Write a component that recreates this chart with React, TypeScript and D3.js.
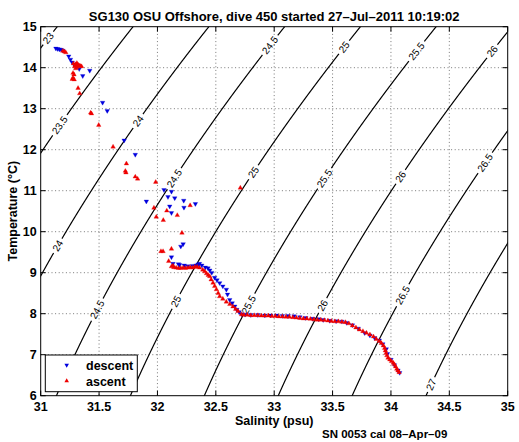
import React from 'react';
import * as d3 from 'd3';

const W = 519;
const H = 442;
const PL = 40.7, PR = 507.7, PT = 26.7, PB = 395.7;

const salTicks = [31, 31.5, 32, 32.5, 33, 33.5, 34, 34.5, 35];
const salTickLabels = ['31', '31.5', '32', '32.5', '33', '33.5', '34', '34.5', '35'];
const tempTicks = [6, 7, 8, 9, 10, 11, 12, 13, 14, 15];
const tempTickLabels = ['6', '7', '8', '9', '10', '11', '12', '13', '14', '15'];

const densityLevels = [23, 23.5, 24, 24.5, 25, 25.5, 26, 26.5, 27];
const labelLevels = [23, 23.5, 24, 24, 24.5, 24.5, 24.5, 25, 25, 25, 25.5, 25.5, 25.5, 26, 26, 26, 26.5, 26.5, 27];
const labelTemps = [14.72, 12.6, 12.7, 9.66, 14.55, 11.3, 8.1, 14.5, 11.45, 8.3, 14.4, 11.3, 8.22, 14.4, 11.34, 8.2, 11.68, 8.45, 6.27];

const descentSal = [
  31.13, 31.145, 31.16, 31.175, 31.19, 31.24, 31.255, 31.27, 31.285, 31.30, 31.33, 31.36, 31.42, 31.53, 31.57, 31.715, 31.81,
  32.056, 32.12, 31.905, 32.09, 32.148, 32.225, 32.325, 32.105, 32.227, 32.12,
  32.20, 32.22, 32.12, 32.18,
  32.133, 32.19, 32.23, 32.26, 32.30, 32.33, 32.347, 32.36, 32.38,
  32.41, 32.433, 32.448, 32.465, 32.49, 32.51, 32.533, 32.56, 32.59, 32.60, 32.619, 32.64, 32.662, 32.68, 32.70, 32.72,
  32.75, 32.80, 32.86, 32.92, 32.97, 33.02, 33.07, 33.12, 33.17, 33.22, 33.27, 33.33, 33.38, 33.42, 33.475, 33.53, 33.58, 33.62,
  33.67, 33.72, 33.775, 33.82, 33.86, 33.90, 33.93, 33.96, 33.97, 34.00, 34.03, 34.06, 34.075,
];
const descentTemp = [
  14.47, 14.46, 14.45, 14.44, 14.42, 14.28, 14.20, 14.13, 14.08, 14.04, 13.97, 13.80, 13.93, 13.15, 12.95, 12.23, 11.88,
  11.02, 10.98, 10.74, 10.85, 10.82, 10.76, 10.68, 10.62, 10.59, 10.46,
  9.64, 9.70, 9.38, 9.21,
  9.22, 9.19, 9.18, 9.16, 9.17, 9.18, 9.20, 9.22, 9.18,
  9.13, 9.11, 9.06, 9.00, 8.88, 8.82, 8.75, 8.67, 8.59, 8.47, 8.34, 8.26, 8.18, 8.10, 8.04, 7.99,
  7.98, 7.97, 7.97, 7.96, 7.96, 7.96, 7.95, 7.95, 7.94, 7.92, 7.90, 7.88, 7.87, 7.85, 7.83, 7.82, 7.81, 7.78,
  7.72, 7.64, 7.53, 7.47, 7.41, 7.35, 7.26, 7.14, 7.02, 6.88, 6.75, 6.62, 6.56,
];

const ascentSal = [
  31.19, 31.205, 31.215, 31.28, 31.30, 31.31, 31.32, 31.33, 31.29, 31.31, 31.34, 31.30, 31.35, 31.277, 31.285, 31.277, 31.287, 31.27, 31.32, 31.334, 31.428, 31.435, 31.497, 31.62,
  31.734, 31.725, 31.73, 31.81, 31.83, 31.985, 32.71, 32.28, 32.08, 31.97, 32.17, 31.99, 32.05, 32.21,
  32.03, 32.048, 32.12, 32.096, 32.133, 32.12,
  32.14, 32.16, 32.18, 32.20, 32.22, 32.24, 32.26, 32.28, 32.30, 32.32, 32.34, 32.36,
  32.388, 32.405, 32.42, 32.435, 32.448, 32.46, 32.476, 32.49, 32.505, 32.52, 32.533, 32.56, 32.59, 32.62, 32.647, 32.67, 32.69, 32.72,
  32.74, 32.77, 32.80, 32.83, 32.86, 32.89, 32.92, 32.95, 32.98, 33.01, 33.04, 33.07, 33.10, 33.13, 33.16, 33.19, 33.22, 33.25, 33.28, 33.31,
  33.34, 33.37, 33.40, 33.43, 33.46, 33.49, 33.52, 33.55, 33.58, 33.61,
  33.64, 33.67, 33.70, 33.73, 33.76, 33.79, 33.82, 33.85, 33.875, 33.90, 33.918, 33.935, 33.946, 33.952, 33.958, 33.965, 33.975, 33.99,
  34.004, 34.02, 34.03, 34.04, 34.05, 34.06, 34.07,
];
const ascentTemp = [
  14.41, 14.39, 14.37, 14.10, 14.08, 14.11, 14.07, 14.05, 14.03, 14.01, 14.04, 13.98, 14.03, 13.87, 13.83, 13.75, 13.71, 13.72, 13.50, 13.37, 12.90, 12.88, 12.60, 12.07,
  11.66, 11.48, 11.44, 11.34, 11.29, 11.21, 11.07, 10.64, 10.51, 10.58, 10.40, 10.36, 10.28, 9.97,
  9.52, 9.52, 9.58, 9.28, 9.17, 9.15,
  9.13, 9.12, 9.11, 9.11, 9.12, 9.11, 9.12, 9.13, 9.12, 9.14, 9.14, 9.12,
  9.07, 9.03, 8.98, 8.94, 8.91, 8.83, 8.75, 8.67, 8.59, 8.50, 8.42, 8.36, 8.29, 8.23, 8.17, 8.11, 8.06, 7.98,
  7.97, 7.97, 7.96, 7.96, 7.96, 7.95, 7.95, 7.95, 7.94, 7.94, 7.93, 7.93, 7.92, 7.92, 7.91, 7.90, 7.89, 7.88, 7.88, 7.87,
  7.86, 7.85, 7.85, 7.84, 7.83, 7.82, 7.81, 7.81, 7.80, 7.79,
  7.76, 7.71, 7.66, 7.61, 7.57, 7.53, 7.49, 7.44, 7.38, 7.33, 7.28, 7.22, 7.16, 7.10, 7.04, 6.98, 6.92, 6.88,
  6.84, 6.80, 6.76, 6.71, 6.65, 6.61, 6.57,
];

const titleText = 'SG130 OSU Offshore, dive 450 started 27\u2013Jul\u20132011 10:19:02';
const xLabel = 'Salinity (psu)';
const yLabel = 'Temperature (\u00B0C)';
const footText = 'SN 0053 cal 08\u2013Apr\u201309';
const legendNames = ['descent', 'ascent'];

// UNESCO EOS-80 density at p = 0, returned as sigma-t
function sigmaT(S: number, T: number) {
  const rw = 999.842594 + 6.793952e-2 * T - 9.09529e-3 * T * T + 1.001685e-4 * T ** 3 - 1.120083e-6 * T ** 4 + 6.536332e-9 * T ** 5;
  const B = 0.824493 - 4.0899e-3 * T + 7.6438e-5 * T * T - 8.2467e-7 * T ** 3 + 5.3875e-9 * T ** 4;
  const C = -5.72466e-3 + 1.0227e-4 * T - 1.6546e-6 * T * T;
  return rw + B * S + C * S ** 1.5 + 4.8314e-4 * S * S - 1000;
}
function salAt(level: number, T: number) {
  let lo = 15, hi = 45;
  for (let i = 0; i < 50; i++) {
    const m = (lo + hi) / 2;
    if (sigmaT(m, T) < level) lo = m; else hi = m;
  }
  return (lo + hi) / 2;
}

const FONT = '"Liberation Sans", Arial, Helvetica, sans-serif';
const BLUE = '#0000dd';
const RED = '#ee0000';

export default function App() {
  const x = d3.scaleLinear().domain([31, 35]).range([PL, PR]);
  const y = d3.scaleLinear().domain([6, 15]).range([PB, PT]);

  const labels = labelLevels.map((lv, i) => {
    const t = labelTemps[i];
    const s = salAt(lv, t);
    const px = x(s), py = y(t);
    const p1x = x(salAt(lv, t - 0.1)), p1y = y(t - 0.1);
    const p2x = x(salAt(lv, t + 0.1)), p2y = y(t + 0.1);
    let ang = (Math.atan2(p2y - p1y, p2x - p1x) * 180) / Math.PI;
    if (ang > 90) ang -= 180;
    if (ang < -90) ang += 180;
    const txt = String(lv);
    const w = txt.split('').reduce((a, c) => a + (c === '.' ? 2.78 : 5.56), 0);
    return { lv, px, py, ang, txt, half: w / 2 + 2.5 };
  });

  const line = d3.line<[number, number]>().x((d) => d[0]).y((d) => d[1]);
  const contourPaths: string[] = [];
  densityLevels.forEach((lv) => {
    const myLabels = labels.filter((l) => l.lv === lv);
    const pts: [number, number][] = d3.range(5.5, 15.5, 0.01).map((t) => [x(salAt(lv, t)), y(t)]);
    let seg: [number, number][] = [];
    pts.forEach((p) => {
      const inGap = myLabels.some((l) => Math.hypot(p[0] - l.px, p[1] - l.py) < l.half);
      if (inGap) {
        if (seg.length > 1) contourPaths.push(line(seg) as string);
        seg = [];
      } else seg.push(p);
    });
    if (seg.length > 1) contourPaths.push(line(seg) as string);
  });

  const tri = d3.symbol().type(d3.symbolTriangle).size(9)() as string;

  const gridStyle = { stroke: '#555', strokeWidth: 0.8, strokeDasharray: '1 2.6' };

  return (
    <svg width={W} height={H} style={{ position: 'absolute', left: 0, top: 0, display: 'block', background: '#fff' }} fontFamily={FONT}>
      <defs>
        <clipPath id="plotclip">
          <rect x={PL} y={PT} width={PR - PL} height={PB - PT} />
        </clipPath>
      </defs>
      <rect x={0} y={0} width={W} height={H} fill="#fff" />
      {/* grid */}
      {salTicks.slice(1, -1).map((s) => (
        <line key={'gx' + s} x1={x(s)} x2={x(s)} y1={PT} y2={PB} {...gridStyle} />
      ))}
      {tempTicks.slice(1, -1).map((t) => (
        <line key={'gy' + t} x1={PL} x2={PR} y1={y(t)} y2={y(t)} {...gridStyle} />
      ))}
      {/* density contours */}
      <g clipPath="url(#plotclip)">
        {contourPaths.map((d, i) => (
          <path key={'c' + i} d={d} fill="none" stroke="#000" strokeWidth={1.2} />
        ))}
        {labels.map((l, i) => (
          <text key={'cl' + i} transform={`translate(${l.px},${l.py}) rotate(${l.ang})`} textAnchor="middle" dy="0.35em" fontSize={10} fill="#000">
            {l.txt}
          </text>
        ))}
      </g>
      {/* data */}
      <g clipPath="url(#plotclip)">
        {descentSal.map((s, i) => (
          <path key={'d' + i} d={tri} transform={`translate(${x(s)},${y(descentTemp[i])}) rotate(180)`} fill={BLUE} stroke={BLUE} strokeWidth={0.3} />
        ))}
        {ascentSal.map((s, i) => (
          <path key={'a' + i} d={tri} transform={`translate(${x(s)},${y(ascentTemp[i])})`} fill={RED} stroke={RED} strokeWidth={0.3} />
        ))}
      </g>
      {/* ticks */}
      {salTicks.map((s) => (
        <g key={'tx' + s}>
          <line x1={x(s)} x2={x(s)} y1={PB} y2={PB - 5} stroke="#000" />
          <line x1={x(s)} x2={x(s)} y1={PT} y2={PT + 5} stroke="#000" />
        </g>
      ))}
      {tempTicks.map((t) => (
        <g key={'ty' + t}>
          <line x1={PL} x2={PL + 5} y1={y(t)} y2={y(t)} stroke="#000" />
          <line x1={PR} x2={PR - 5} y1={y(t)} y2={y(t)} stroke="#000" />
        </g>
      ))}
      <rect x={PL} y={PT} width={PR - PL} height={PB - PT} fill="none" stroke="#000" strokeWidth={1} />
      {/* tick labels */}
      {salTicks.map((s, i) => (
        <text key={'lx' + s} x={x(s)} y={PB + 15} textAnchor="middle" fontSize={12.5} fontWeight="bold">
          {salTickLabels[i]}
        </text>
      ))}
      {tempTicks.map((t, i) => (
        <text key={'ly' + t} x={PL - 4} y={y(t) + 4.5} textAnchor="end" fontSize={12.5} fontWeight="bold">
          {tempTickLabels[i]}
        </text>
      ))}
      {/* titles */}
      <text x={(PL + PR) / 2} y={20.5} textAnchor="middle" fontSize={13} fontWeight="bold">
        {titleText}
      </text>
      <text x={(PL + PR) / 2} y={424.5} textAnchor="middle" fontSize={12.5} fontWeight="bold">
        {xLabel}
      </text>
      <text transform={`translate(16.5,${(PT + PB) / 2}) rotate(-90)`} textAnchor="middle" fontSize={12.5} fontWeight="bold">
        {yLabel}
      </text>
      <text x={322} y={438} fontSize={11.5} fontWeight="bold">
        {footText}
      </text>
      {/* legend */}
      <rect x={45.3} y={355} width={92} height={36.7} fill="#fff" stroke="#000" strokeWidth={1} />
      <path d={tri} transform={`translate(66.7,365) rotate(180)`} fill={BLUE} />
      <path d={tri} transform={`translate(66.7,381)`} fill={RED} />
      <text x={86} y={370} fontSize={12.5} fontWeight="bold">{legendNames[0]}</text>
      <text x={86} y={386} fontSize={12.5} fontWeight="bold">{legendNames[1]}</text>
    </svg>
  );
}
